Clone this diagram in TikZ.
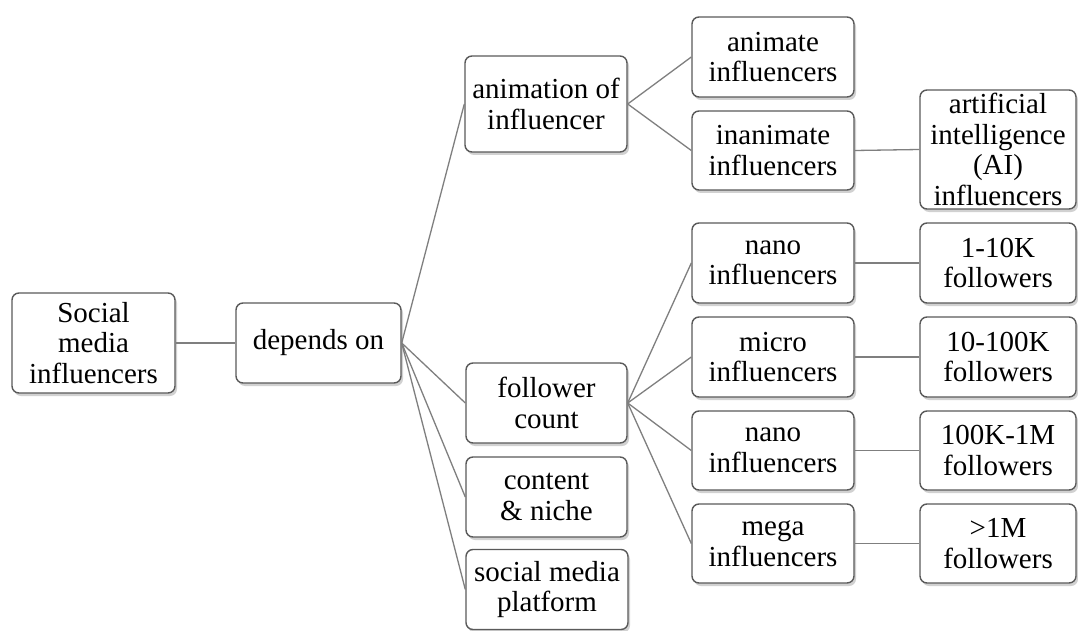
\documentclass[tikz,border=0pt]{standalone}
\usepackage{fontspec}
\setmainfont{Liberation Serif}
\usetikzlibrary{shadows}
\definecolor{boxline}{HTML}{5A5A5A}
\definecolor{connline}{HTML}{7F7F7F}
\tikzset{
  box/.style={draw=boxline, line width=1.4pt, rounded corners=7pt, fill=white,
    align=center, inner sep=0pt, minimum height=80pt,
    font=\fontsize{29pt}{30.5pt}\selectfont,
    drop shadow={shadow xshift=2pt, shadow yshift=-3pt, opacity=0.45, fill=gray!80}},
  conn/.style={draw=connline, line width=1.3pt}
}
\begin{document}
\begin{tikzpicture}[x=1pt,y=-1pt]
\useasboundingbox[fill=white] (0,0) rectangle (1078,631);
\node[box, minimum width=163pt, minimum height=100pt] (soc) at (93.5,343) {Social\\media\\influencers};
\node[box, minimum width=165pt] (dep) at (318.5,343) {depends on};
\node[box, minimum width=162pt, minimum height=96pt] (anim) at (546,104) {animation of\\influencer};
\node[box, minimum width=161pt] (foll) at (546.5,403) {follower\\count};
\node[box, minimum width=161pt] (cont) at (546.5,497) {content\\\&~niche};
\node[box, minimum width=162pt] (plat) at (547,589.5) {social media\\platform};
\node[box, minimum width=162pt] (animate) at (773,57) {animate\\influencers};
\node[box, minimum width=162pt, minimum height=79pt] (inanim) at (773,150.5) {inanimate\\influencers};
\node[box, minimum width=156pt, minimum height=119pt] (ai) at (998,149.5) {artificial\\intelligence\\(AI)\\influencers};
\node[box, minimum width=162pt] (nano1) at (773,263) {nano\\influencers};
\node[box, minimum width=162pt] (micro) at (773,357) {micro\\influencers};
\node[box, minimum width=162pt, minimum height=79pt] (nano2) at (773,450.5) {nano\\influencers};
\node[box, minimum width=162pt, minimum height=79pt] (mega) at (773,543.5) {mega\\influencers};
\node[box, minimum width=156pt] (f1) at (998,263) {1-10K\\followers};
\node[box, minimum width=156pt] (f2) at (998,357) {10-100K\\followers};
\node[box, minimum width=156pt, minimum height=79pt] (f3) at (998,450.5) {100K-1M\\followers};
\node[box, minimum width=156pt, minimum height=79pt] (f4) at (998,543.5) {>1M\\followers};
\begin{scope}[on background layer/.try]
\end{scope}
\draw[conn] (soc.east) -- (dep.west);
\draw[conn] (dep.east) -- (anim.west);
\draw[conn] (dep.east) -- (foll.west);
\draw[conn] (dep.east) -- (cont.west);
\draw[conn] (dep.east) -- (plat.west);
\draw[conn] (anim.east) -- (animate.west);
\draw[conn] (anim.east) -- (inanim.west);
\draw[conn] (inanim.east) -- (ai.west);
\draw[conn] (foll.east) -- (nano1.west);
\draw[conn] (foll.east) -- (micro.west);
\draw[conn] (foll.east) -- (nano2.west);
\draw[conn] (foll.east) -- (mega.west);
\draw[conn] (nano1.east) -- (f1.west);
\draw[conn] (micro.east) -- (f2.west);
\draw[conn] (nano2.east) -- (f3.west);
\draw[conn] (mega.east) -- (f4.west);
\end{tikzpicture}
\end{document}
